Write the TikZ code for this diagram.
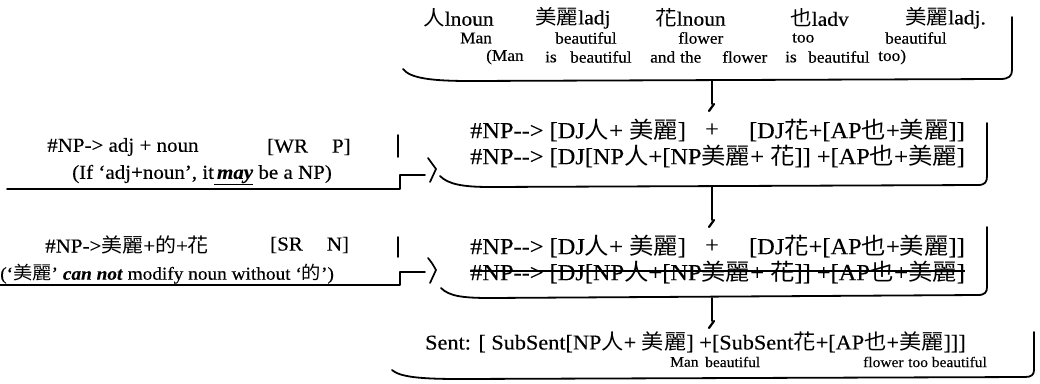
\documentclass[tikz,border=0pt]{standalone}
\usepackage{fontspec}
\setmainfont{Liberation Serif}[FakeStretch=1.06,FakeBold=0.3]
\newfontfamily\cjkf{Noto Sans CJK TC}[FakeStretch=1.06]
\newcommand\hz[1]{{\cjkf #1}}
\tikzset{
  bk/.style={line width=1.8pt, line cap=round, line join=round},
  tick/.style={line width=2.2pt, line cap=round},
  ta/.style={font=\fontsize{20.3}{22}\selectfont, inner sep=0pt, anchor=west},
  tb/.style={font=\fontsize{16.3}{18}\selectfont, inner sep=0pt, anchor=west},
  tl/.style={font=\fontsize{19.8}{22}\selectfont, inner sep=0pt, anchor=west},
  tn/.style={font=\fontsize{18.2}{20}\selectfont, inner sep=0pt, anchor=west},
  tm/.style={font=\fontsize{23}{25}\selectfont, inner sep=0pt, anchor=west},
  ts/.style={font=\fontsize{21}{23}\selectfont, inner sep=0pt, anchor=west},
  tg/.style={font=\fontsize{14.6}{16}\selectfont, inner sep=0pt, anchor=west}
}
\begin{document}
\begin{tikzpicture}[x=1pt,y=-1pt]
\fill[white] (0,0) rectangle (1040,383);
\useasboundingbox (0,0) rectangle (1040,383);

% ---------- Box 1 ----------
\node[ta] (a1) at (423,18) {\hz{人}lnoun};
\node[ta] (a2) at (535,18) {\hz{美麗}ladj};
\node[ta] (a3) at (655,18) {\hz{花}lnoun};
\node[ta] (a4) at (790,18) {\hz{也}ladv};
\node[ta] (a5) at (905,18) {\hz{美麗}ladj.};
\node[tb] (b1) at (460,38) {Man};
\node[tb] (b2) at (555,38) {beautiful};
\node[tb] (b3) at (678,38) {flower};
\node[tb] (b4) at (792,38) {too};
\node[tb] (b5) at (885,38) {beautiful};
\node[tb] (c1) at (486,57) {(Man};
\node[tb] (c2) at (545,57) {is};
\node[tb] (c3) at (570,57) {beautiful};
\node[tb] (c4) at (650,57) {and};
\node[tb] (c5) at (680,57) {the};
\node[tb] (c6) at (722,57) {flower};
\node[tb] (c7) at (785,57) {is};
\node[tb] (c8) at (808,57) {beautiful};
\node[tb] (c9) at (878,57) {too)};
\draw[bk] (403,69) .. controls (410,78) and (430,81) .. (470,81) -- (1000,79)
  .. controls (1009,79) and (1012,76) .. (1012,70) -- (1012,17);

\coordinate (k1t) at (712,81);
\coordinate (k1b) at (712,104);
\draw[bk] (k1t) -- (k1b);
\draw[tick] (714,104) -- (709,111);

% ---------- Left group 1 ----------
\node[tl] (l1a) at (47,147) {\#NP-> adj + noun};
\node[tl] (l1b) at (267,147) {[WR\hspace{24pt}P]};
\node[tl] (l1c) at (72,175) {(If ‘adj+noun’, it\underline{\hspace{3pt}\textbf{\textit{may}}} be a NP)};
\draw[bk] (398,135) -- (398,157);
\draw[bk] (7,189) -- (400,189) -- (400,175) -- (425,175);
\draw[line width=1.7pt, line cap=round] (428,158) .. controls (432,163) .. (436,169) .. controls (433,175) .. (430,182);

% ---------- Box 2 ----------
\node[tm] (d1) at (470,130) {\#NP-{}-> [DJ\hz{人}+ \hz{美麗}]};
\node[tm, anchor=center] (d2) at (712,130) {+};
\node[tm, anchor=east] (d3) at (965,130) {[DJ\hz{花}+[AP\hz{也}+\hz{美麗}]]};
\node[tm] (d4) at (470,156) {\#NP-{}-> [DJ[NP\hz{人}+[NP\hz{美麗}+ \hz{花}]] +[AP\hz{也}+\hz{美麗}]};
\draw[bk] (440,176) .. controls (448,184) and (462,187) .. (490,187) -- (978,185)
  .. controls (985,185) and (987,182) .. (987,176) -- (987,123);

\coordinate (k2t) at (712,187);
\coordinate (k2b) at (712,220);
\draw[bk] (k2t) -- (k2b);
\draw[tick] (714,220) -- (709,227);

% ---------- Left group 2 ----------
\node[tl] (l2a) at (45,245) {\#NP->\hz{美麗}+\hz{的}+\hz{花}};
\node[tl] (l2b) at (270,245) {[SR\hspace{24pt}N]};
\node[tn] (l2c) at (0,274) {(‘\hz{美麗}’ \textbf{\textit{can not}} modify noun without ‘\hz{的}’)};
\draw[bk] (398,237) -- (398,257);
\draw[bk] (0,285) -- (400,285) -- (400,272) -- (425,272);
\draw[line width=1.7pt, line cap=round] (428,258) .. controls (432,263) .. (436,270) .. controls (433,276) .. (430,283);

% ---------- Box 3 ----------
\node[tm] (e1) at (470,246) {\#NP-{}-> [DJ\hz{人}+ \hz{美麗}]};
\node[tm, anchor=center] (e2) at (712,246) {+};
\node[tm, anchor=east] (e3) at (965,246) {[DJ\hz{花}+[AP\hz{也}+\hz{美麗}]]};
\node[tm] (e4) at (470,272) {\#NP-{}-> [DJ[NP\hz{人}+[NP\hz{美麗}+ \hz{花}]] +[AP\hz{也}+\hz{美麗}]};
\draw[line width=1.4pt] ([yshift=1pt]e4.west) -- ([yshift=1pt]e4.east);
\draw[bk] (441,288) .. controls (449,296) and (462,298) .. (490,298) -- (978,295)
  .. controls (985,295) and (987,292) .. (987,287) -- (987,227);

\coordinate (k3t) at (712,298);
\coordinate (k3b) at (712,321);
\draw[bk] (k3t) -- (k3b);
\draw[tick] (714,321) -- (709,328);

% ---------- Box 4 ----------
\node[ts] (f1) at (425,342) {Sent: [ SubSent[NP\hz{人}+ \hz{美麗}] +[SubSent\hz{花}+[AP\hz{也}+\hz{美麗}]]]};
\node[tg] (g1) at (670,362) {Man};
\node[tg] (g2) at (705,362) {beautiful};
\node[tg] (g3) at (863,362) {flower};
\node[tg] (g4) at (908,362) {too beautiful};
\draw[bk] (392,370) .. controls (400,377) and (420,379) .. (460,379) -- (1025,377)
  .. controls (1031,377) and (1034,375) .. (1034,370) -- (1034,332);
\end{tikzpicture}
\end{document}
